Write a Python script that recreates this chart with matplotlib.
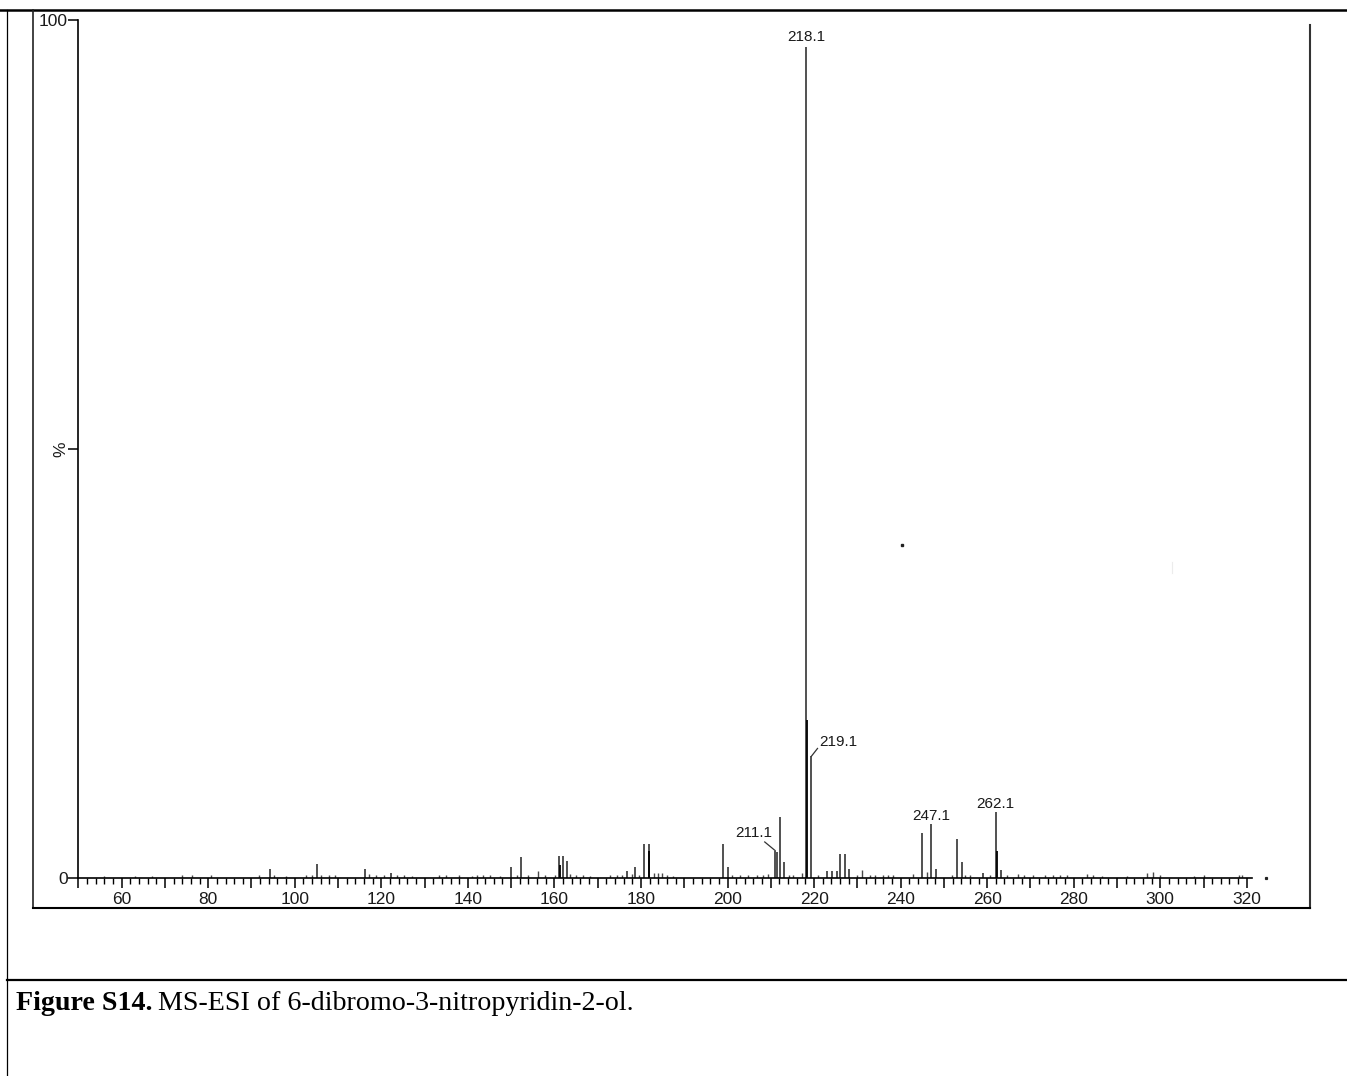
import matplotlib
matplotlib.use("Agg")
import matplotlib.pyplot as plt
from matplotlib.lines import Line2D

# ---- spectrum data (m/z, relative intensity %) ----
peak_mz = [94.2, 105.2, 116.2, 122.2, 150.0, 152.2, 161.0, 162.0, 162.8,
           176.8, 178.7, 180.6, 181.9, 199.0, 200.0, 211.05, 211.4, 212.2,
           213.1, 218.1, 219.4, 222.9, 224.1, 225.2, 226.1, 227.2, 228.1,
           244.9, 247.0, 248.2, 253.0, 254.1, 259.1, 262.1, 263.2]
peak_int = [1.0, 1.6, 1.0, 0.6, 1.25, 2.4, 2.6, 2.6, 2.0,
            0.8, 1.25, 4.0, 4.0, 4.0, 1.3, 3.1, 3.0, 7.1,
            1.9, 96.8, 14.2, 0.8, 0.8, 0.8, 2.8, 2.8, 1.0,
            5.2, 6.3, 1.0, 4.5, 1.85, 0.6, 7.7, 0.9]

# darker overlapping components inside some of the peaks
dark_mz = [161.3, 181.95, 218.3, 262.2]
dark_int = [1.5, 3.2, 18.4, 3.2]

# low-level signals along the baseline
noise_mz = [56.0, 63.0, 67.0, 74.0, 76.3, 80.6, 91.7, 95.2, 97.9, 102.5,
            104.0, 106.0, 107.9, 109.4, 117.1, 118.7, 120.6, 123.7, 125.2,
            127.2, 133.3, 134.9, 138.0, 141.0, 142.0, 143.6, 145.1, 147.4,
            151.3, 154.0, 156.3, 157.8, 160.2, 163.6, 165.1, 166.7, 168.2,
            172.8, 174.4, 175.6, 178.0, 179.6, 182.9, 184.0, 184.8, 186.0,
            187.5, 201.0, 202.9, 204.8, 206.8, 208.3, 209.4, 214.1, 215.2,
            217.2, 221.0, 229.9, 231.1, 232.9, 234.1, 236.0, 237.2, 238.3,
            242.9, 246.0, 251.8, 254.9, 256.1, 260.7, 264.5, 267.2, 268.4,
            270.7, 273.4, 275.3, 276.8, 278.4, 283.0, 284.5, 286.5, 292.2,
            296.9, 298.4, 300.0, 307.7, 310.0, 318.1, 318.9]
noise_int = [0.2, 0.2, 0.2, 0.3, 0.3, 0.3, 0.3, 0.3, 0.2, 0.4,
             0.3, 0.4, 0.3, 0.3, 0.5, 0.3, 0.3, 0.4, 0.3,
             0.2, 0.3, 0.3, 0.3, 0.2, 0.3, 0.3, 0.4, 0.2,
             0.4, 0.3, 0.8, 0.3, 0.4, 0.5, 0.3, 0.3, 0.2,
             0.3, 0.3, 0.4, 0.5, 0.4, 0.6, 0.6, 0.6, 0.3,
             0.2, 0.4, 0.3, 0.3, 0.3, 0.4, 0.5, 0.3, 0.3,
             0.6, 0.4, 0.3, 0.9, 0.4, 0.3, 0.4, 0.4, 0.4,
             0.5, 0.7, 0.3, 0.4, 0.3, 0.4, 0.3, 0.5, 0.4,
             0.3, 0.4, 0.4, 0.3, 0.3, 0.5, 0.3, 0.2, 0.2,
             0.6, 0.7, 0.3, 0.2, 0.4, 0.4, 0.3]

# labelled peaks: label text and where the text sits (m/z, %)
label_text = ["218.1", "219.1", "211.1", "247.1", "262.1"]
label_x = [218.15, 225.5, 206.1, 247.0, 261.8]
label_y = [98.0, 15.9, 5.2, 7.2, 8.6]

x_min, x_max = 50, 321.2
x_labelled = list(range(60, 321, 20))
y_ticks = [0, 50, 100]
y_ticklabels = ["0", "%", "100"]

W, H = 1347, 1076
plt.rcParams["font.family"] = ["Liberation Sans", "DejaVu Sans"]
fig = plt.figure(figsize=(W / 100, H / 100), dpi=100)

ax_l, ax_r, ax_t, ax_b = 78.4, 1252, 20, 878
ax = fig.add_axes([ax_l / W, 1 - ax_b / H, (ax_r - ax_l) / W, (ax_b - ax_t) / H])
ax.set_xlim(x_min, x_max)
ax.set_ylim(0, 100)

line_col = "#4a4a4a"
ax.vlines(noise_mz, 0, noise_int, color=line_col, lw=1.0)
ax.vlines(peak_mz, 0, peak_int, color=line_col, lw=1.35)
ax.vlines(dark_mz, 0, dark_int, color="black", lw=1.3)

for s in ["top", "right"]:
    ax.spines[s].set_visible(False)
for s in ["left", "bottom"]:
    ax.spines[s].set_linewidth(1.2)
    ax.spines[s].set_color("black")

# long ticks every 10, short ticks every 2, numbers every 20
major = list(range(50, 321, 10))
ax.set_xticks(major)
ax.set_xticklabels([str(v) if v in x_labelled else "" for v in major])
ax.set_xticks([v for v in range(50, 322, 2) if v % 10], minor=True)
ax.tick_params(axis="x", which="major", direction="out", length=7, width=1.1,
               labelsize=12.5, pad=3.2, colors="black", labelcolor="#1a1a1a")
ax.tick_params(axis="x", which="minor", direction="out", length=4, width=1.0,
               colors="black")

ax.set_yticks(y_ticks, labels=y_ticklabels)
ax.tick_params(axis="y", direction="out", length=7, width=1.1, labelsize=12.5,
               pad=0.5, labelcolor="#1a1a1a")
ax.get_yticklabels()[1].set_rotation(90)
ax.get_yticklabels()[1].set_va("center")

for txt, tx, ty in zip(label_text, label_x, label_y):
    ax.text(tx, ty, txt, ha="center", va="center", fontsize=11, color="#1a1a1a")

# leader lines for the shifted labels
ax.plot([219.4, 220.8], [14.2, 15.1], color="#333333", lw=0.9)
ax.plot([208.6, 211.0], [4.2, 3.2], color="#333333", lw=0.9)

# small stray marks
ax.plot([240.3], [38.8], marker="s", ms=1.6, color="#222222", clip_on=False)
ax.plot([324.5], [0.0], marker="s", ms=1.3, color="#222222", clip_on=False)
ax.plot([302.7, 302.7], [35.6, 36.8], color="#ececec", lw=0.8, clip_on=False)

# frame around the spectrum and the surrounding table rules
def hline(y, x0, x1, lw):
    fig.add_artist(Line2D([x0 / W, x1 / W], [1 - y / H, 1 - y / H],
                          color="black", lw=lw, transform=fig.transFigure))

def vline(x, y0, y1, lw, color="black"):
    fig.add_artist(Line2D([x / W, x / W], [1 - y0 / H, 1 - y1 / H],
                          color=color, lw=lw, transform=fig.transFigure))

hline(10, 0, W, 1.8)
vline(7, 10, H, 0.9)
hline(980, 7, W, 1.6)
vline(33, 10, 908, 1.2, "#222222")
vline(1310, 25, 908, 1.5, "#333333")
hline(908, 33, 1310, 1.5)

# caption
cap_y = 1 - 1004 / H
t1 = fig.text(16 / W, cap_y, "Figure S14.", fontsize=20.2, fontweight="bold",
              family="Liberation Serif", va="center", ha="left")
fig.canvas.draw()
bb = t1.get_window_extent(renderer=fig.canvas.get_renderer())
fig.text((bb.x1 + 5) / W, cap_y, "MS-ESI of 6-dibromo-3-nitropyridin-2-ol.",
         fontsize=20.2, family="Liberation Serif", va="center", ha="left")

fig.savefig("out.png", dpi=100)
